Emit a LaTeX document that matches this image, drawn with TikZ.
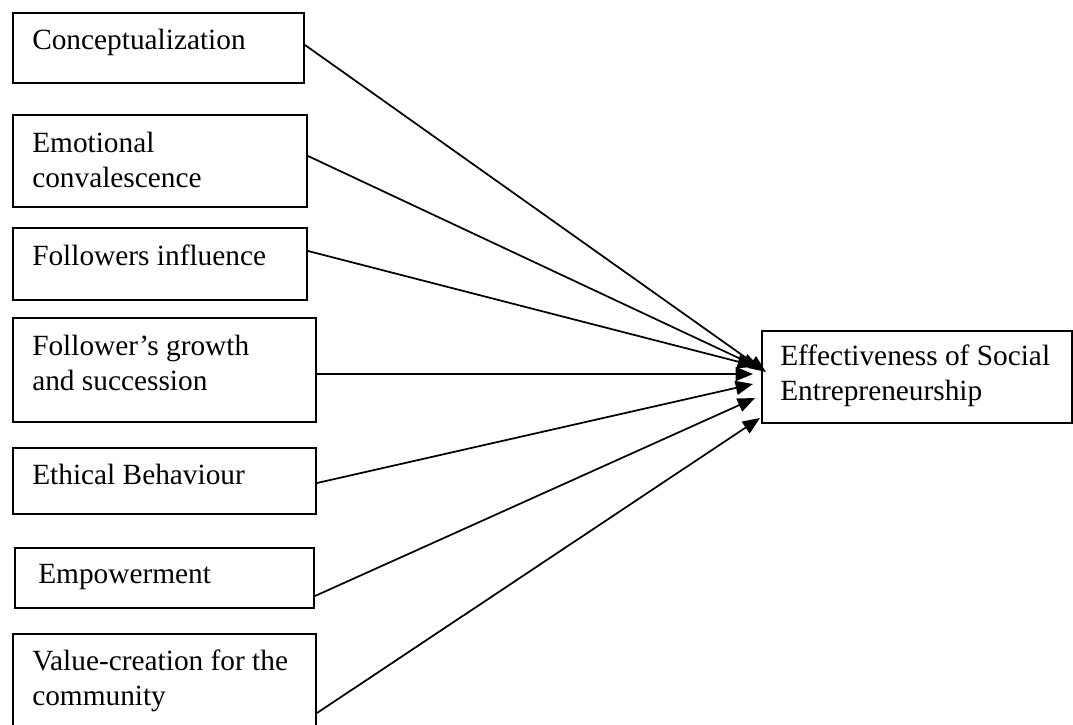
\documentclass[tikz,border=0pt]{standalone}
\usepackage{fontspec}
\setmainfont{Liberation Serif}
\usetikzlibrary{arrows.meta,calc}
\begin{document}
\begin{tikzpicture}[x=0.75pt,y=-0.75pt,
  box/.style={draw,line width=1.5pt,rectangle,inner sep=0pt,anchor=north west},
  lbl/.style={anchor=base west,inner sep=0pt,font=\fontsize{22}{26.3}\selectfont},
  link/.style={line width=1.3pt,-{Triangle[length=13pt,width=10.5pt]}}]
\clip (0,0) rectangle (1073,724);
% factor boxes
\node[box,minimum width=291*0.75pt,minimum height=70*0.75pt] (b1) at (12,12) {};
\node[box,minimum width=294*0.75pt,minimum height=92*0.75pt] (b2) at (12,114) {};
\node[box,minimum width=294*0.75pt,minimum height=72*0.75pt] (b3) at (12,227) {};
\node[box,minimum width=303*0.75pt,minimum height=104*0.75pt] (b4) at (12,317) {};
\node[box,minimum width=303*0.75pt,minimum height=66*0.75pt] (b5) at (12,447) {};
\node[box,minimum width=299*0.75pt,minimum height=60*0.75pt] (b6) at (14,547) {};
\node[box,minimum width=303*0.75pt,minimum height=110*0.75pt] (b7) at (12,633) {};
% outcome box
\node[box,minimum width=310*0.75pt,minimum height=92*0.75pt] (e) at (761,330) {};
% labels
\node[lbl] (t1) at ($(b1.north west)+(20,38)$) {Conceptualization};
\node[lbl] (t2) at ($(b2.north west)+(20,38)$) {\begin{tabular}[t]{@{}l@{}}Emotional\\convalescence\end{tabular}};
\node[lbl] (t3) at ($(b3.north west)+(20,38)$) {Followers influence};
\node[lbl] (t4) at ($(b4.north west)+(20,38)$) {\begin{tabular}[t]{@{}l@{}}Follower’s growth\\and succession\end{tabular}};
\node[lbl] (t5) at ($(b5.north west)+(20,37)$) {Ethical Behaviour};
\node[lbl] (t6) at ($(b6.north west)+(24,36)$) {Empowerment};
\node[lbl] (t7) at ($(b7.north west)+(20,37)$) {\begin{tabular}[t]{@{}l@{}}Value-creation for the\\community\end{tabular}};
\node[lbl] (te) at ($(e.north west)+(19,35)$) {\begin{tabular}[t]{@{}l@{}}Effectiveness of Social\\Entrepreneurship\end{tabular}};
% connectors
\draw[link] ($(b1.north east)+(0,33)$) -- ($(e.north west)+(5,42)$);
\draw[link] ($(b2.north east)+(0,42)$) -- ($(e.north west)+(-1,38)$);
\draw[link] ($(b3.north east)+(0,24)$) -- ($(e.north west)+(-6,36)$);
\draw[link] ($(b4.north east)+(0,57)$) -- ($(e.north west)+(-8,44)$);
\draw[link] ($(b5.north east)+(0,36)$) -- ($(e.north west)+(-8,54)$);
\draw[link] ($(b6.north east)+(0,49)$) -- ($(e.north west)+(-6,68)$);
\draw[link] ($(b7.north east)+(0,80)$) -- ($(e.north west)+(-1,88)$);
\end{tikzpicture}
\end{document}
